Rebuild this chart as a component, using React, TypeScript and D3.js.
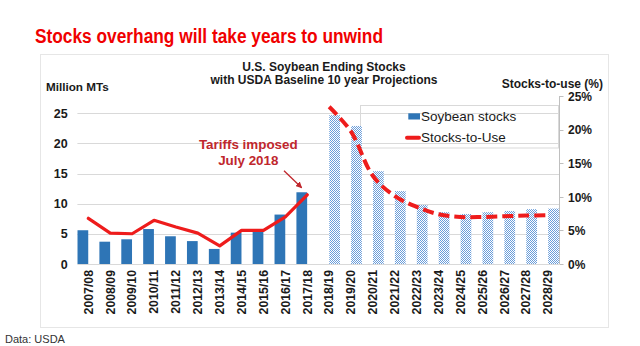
import React from "react";
import * as d3 from "d3";

const categories = [
  "2007/08", "2008/09", "2009/10", "2010/11", "2011/12", "2012/13", "2013/14", "2014/15",
  "2015/16", "2016/17", "2017/18", "2018/19", "2019/20", "2020/21", "2021/22", "2022/23",
  "2023/24", "2024/25", "2025/26", "2026/27", "2027/28", "2028/29",
];
const histCats = categories.slice(0, 11);
const projCats = categories.slice(11);

// Million MTs
const stocksHist = [5.6, 3.7, 4.1, 5.8, 4.6, 3.8, 2.5, 5.2, 5.4, 8.2, 11.9];
const stocksProj = [24.7, 22.9, 15.4, 12.1, 9.8, 8.6, 8.3, 8.6, 8.8, 9.1, 9.2];
// Stocks-to-use %
const sutHist = [6.8, 4.6, 4.5, 6.5, 5.5, 4.6, 2.7, 5.0, 5.0, 7.0, 10.3];
const sutProj = [23.4, 19.7, 13.1, 10.1, 8.5, 7.4, 7.0, 7.0, 7.1, 7.2, 7.25];

const leftTicks = [0, 5, 10, 15, 20, 25];
const rightTicks = [0, 5, 10, 15, 20, 25];

const FONT = "'Liberation Sans', Arial, sans-serif";
const BLUE = "#2E75B6";
const RED = "#EE1C1C";
const DARKRED = "#C0272D";
const GRID = "#D9D9D9";
const TXT = "#1a1a1a";

export default function App() {
  const W = 640, H = 346;
  const plotL = 77.4, plotR = 559, y0 = 264;
  const x = d3.scaleBand<string>().domain(categories).range([plotL, plotR]).paddingInner(0).paddingOuter(0);
  const sub = d3.scaleBand<string>().domain(["hist", "proj"]).range([0, x.bandwidth()]).paddingInner(0.02).paddingOuter(0.01);
  const yL = d3.scaleLinear().domain([0, 25]).range([y0, 113.3]);
  const yR = d3.scaleLinear().domain([0, 25]).range([y0, 96]);
  const cx = (c: string) => (x(c) as number) + x.bandwidth() / 2;

  const histLine = d3.line<number>().x((_, i) => cx(histCats[i])).y((d) => yR(d)).curve(d3.curveLinear);
  const projLine = d3.line<number>().x((_, i) => cx(projCats[i])).y((d) => yR(d)).curve(d3.curveCatmullRom.alpha(0.5));

  return (
    <svg width={W} height={H} style={{ position: "absolute", left: 0, top: 0, background: "#fff" }} fontFamily={FONT}>
      <defs>
        <pattern id="chk" width="2" height="2" patternUnits="userSpaceOnUse">
          <rect width="2" height="2" fill="#ffffff" />
          <rect x="0" y="0" width="1" height="1" fill="#6A9DDA" />
          <rect x="1" y="1" width="1" height="1" fill="#6A9DDA" />
        </pattern>
        <marker id="arr" viewBox="0 0 10 10" refX="9" refY="5" markerWidth="5" markerHeight="5" orient="auto">
          <path d="M0,0 L10,5 L0,10 z" fill={DARKRED} />
        </marker>
      </defs>
      <rect width={W} height={H} fill="#fff" />

      <text x={35} y={42.7} fontSize={20} fontWeight="bold" fill="#F00000" textLength={348} lengthAdjust="spacingAndGlyphs">
        Stocks overhang will take years to unwind
      </text>

      <rect x={40.5} y={54.5} width={568} height={273} fill="#fff" stroke="#E6E6E6" />

      <text x={324} y={70.7} fontSize={12} fontWeight="bold" fill={TXT} textAnchor="middle">U.S. Soybean Ending Stocks</text>
      <text x={324} y={84} fontSize={12} fontWeight="bold" fill={TXT} textAnchor="middle">with USDA Baseline 10 year Projections</text>
      <text x={46} y={90.7} fontSize={11.7} fontWeight="bold" fill={TXT}>Million MTs</text>
      <text x={603} y={87.5} fontSize={12} fontWeight="bold" fill={TXT} textAnchor="end">Stocks-to-use (%)</text>

      {leftTicks.map((t) => (
        <g key={"l" + t}>
          <line x1={plotL} x2={plotR} y1={Math.round(yL(t)) + 0.5} y2={Math.round(yL(t)) + 0.5} stroke={GRID} />
          <text x={67.7} y={yL(t)} dy="0.36em" fontSize={12.5} fontWeight="bold" fill={TXT} textAnchor="end">{t}</text>
        </g>
      ))}

      {/* legend box */}
      <rect x={360.5} y={105.5} width={198} height={42.5} fill="none" stroke={GRID} />

      {/* bars */}
      {histCats.map((c, i) => (
        <rect key={"h" + c} x={(x(c) as number) + (sub("hist") as number)} y={yL(stocksHist[i])} width={sub.bandwidth()} height={y0 - yL(stocksHist[i])} fill={BLUE} />
      ))}
      {projCats.map((c, i) => (
        <rect key={"p" + c} x={(x(c) as number) + (sub("proj") as number)} y={yL(stocksProj[i])} width={sub.bandwidth()} height={y0 - yL(stocksProj[i])} fill="url(#chk)" />
      ))}

      {/* right axis */}
      <line x1={559.5} x2={559.5} y1={yR(25)} y2={y0} stroke="#BFBFBF" />
      {rightTicks.map((t) => (
        <g key={"r" + t}>
          <line x1={559.5} x2={563.5} y1={Math.round(yR(t)) + 0.5} y2={Math.round(yR(t)) + 0.5} stroke="#BFBFBF" />
          <text x={568} y={yR(t)} dy="0.4em" fontSize={12} fontWeight="bold" fill={TXT}>{t}%</text>
        </g>
      ))}

      {/* x labels */}
      {categories.map((c) => (
        <text key={"x" + c} transform={`translate(${cx(c) + 4.3},270) rotate(-90)`} fontSize={12.3} fontWeight="bold" fill={TXT} textAnchor="end">{c}</text>
      ))}

      {/* lines */}
      <path d={histLine(sutHist) || ""} fill="none" stroke={RED} strokeWidth={3.2} strokeLinejoin="round" strokeLinecap="round" />
      <path d={projLine(sutProj) || ""} fill="none" stroke={RED} strokeWidth={4} strokeDasharray="11 5" />

      {/* legend contents */}
      <rect x={408.3} y={113.3} width={11.7} height={6.2} fill={BLUE} />
      <text x={421} y={120.7} fontSize={13.5} fill={TXT}>Soybean stocks</text>
      <line x1={407} x2={419} y1={137.7} y2={137.7} stroke={RED} strokeWidth={4} strokeLinecap="round" />
      <text x={421} y={141.7} fontSize={13.5} fill={TXT}>Stocks-to-Use</text>

      {/* annotation */}
      <text x={248.3} y={149.3} fontSize={13.4} fontWeight="bold" fill={DARKRED} textAnchor="middle">Tariffs imposed</text>
      <text x={248.3} y={165} fontSize={13.4} fontWeight="bold" fill={DARKRED} textAnchor="middle">July 2018</text>
      <line x1={284} y1={170.7} x2={301.7} y2={187.7} stroke={DARKRED} strokeWidth={1.3} markerEnd="url(#arr)" />

      <text x={5} y={342.5} fontSize={11} fill="#333">Data: USDA</text>
    </svg>
  );
}
